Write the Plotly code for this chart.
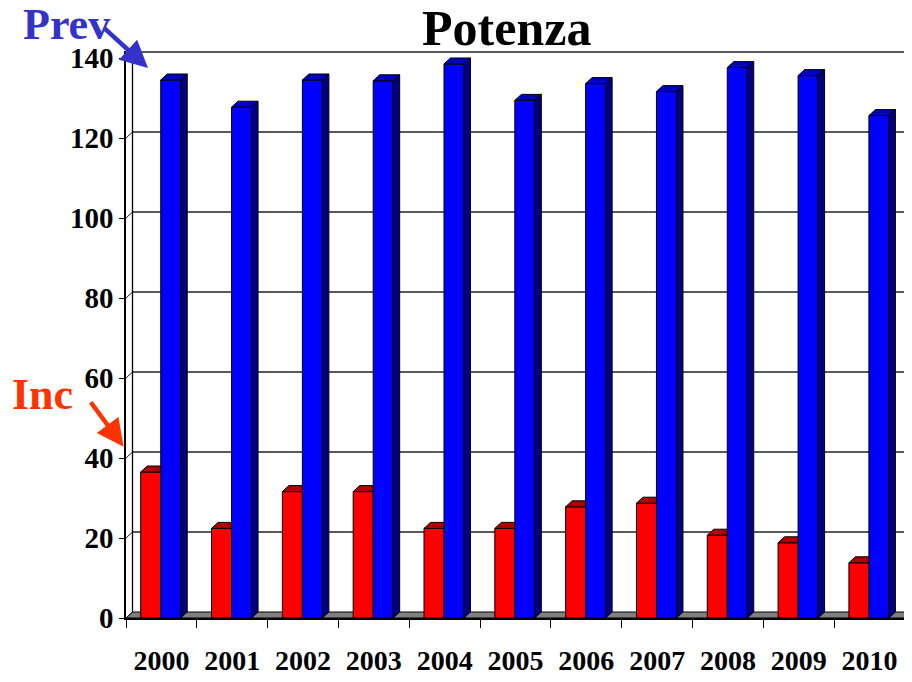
import plotly.graph_objects as go

# dati
anni = ["2000", "2001", "2002", "2003", "2004", "2005", "2006", "2007", "2008", "2009", "2010"]
inc = [36.5, 22.4, 31.6, 31.6, 22.4, 22.4, 27.8, 28.7, 20.7, 18.8, 13.8]
prev = [134.5, 127.7, 134.5, 134.3, 138.5, 129.4, 133.6, 131.6, 137.6, 135.6, 125.6]

# geometria dell'effetto 3D (in unita' degli assi)
ux = 779 / 11          # pixel per categoria
dx = 6.5 / ux          # profondita' orizzontale
dy = 1.5               # profondita' verticale
w = 20 / ux            # larghezza barra
off_r = -0.292
off_b = off_r + w
xs = list(range(len(anni)))

fig = go.Figure()

# facce frontali
fig.add_trace(go.Bar(x=xs, y=inc, width=w, offset=off_r, marker_color="#FF0000",
                     marker_line=dict(color="black", width=1), name="Inc"))
fig.add_trace(go.Bar(x=xs, y=prev, width=w, offset=off_b, marker_color="#0000FF",
                     marker_line=dict(color="black", width=1), name="Prev"))

# facce superiori e laterali
def poly(pts_list):
    px_, py_ = [], []
    for pts in pts_list:
        for p in pts + [pts[0]]:
            px_.append(p[0]); py_.append(p[1])
        px_.append(None); py_.append(None)
    return px_, py_

top_r = []
for i, v in zip(xs, inc):
    xl, xr = i + off_r, i + off_r + w
    top_r.append([(xl, v), (xr, v), (xr, v + dy), (xl + dx, v + dy)])
top_b, side_b = [], []
for i, v in zip(xs, prev):
    xl, xr = i + off_b, i + off_b + w
    top_b.append([(xl, v), (xr, v), (xr + dx, v + dy), (xl + dx, v + dy)])
    side_b.append([(xr, 0), (xr + dx, dy), (xr + dx, v + dy), (xr, v)])

for pts, col in [(top_r, "#B00000"), (top_b, "#0000C0"), (side_b, "#000080")]:
    px_, py_ = poly(pts)
    fig.add_trace(go.Scatter(x=px_, y=py_, mode="lines", fill="toself", fillcolor=col,
                             line=dict(color="black", width=1), hoverinfo="skip"))

# pareti, pavimento e griglia
x0, x1 = -0.5, 10.5
shapes = [dict(type="path", layer="below", fillcolor="#808080",
               line=dict(color="black", width=1),
               path=f"M {x0},0 L {x1},0 L {x1+dx},{dy} L {x0+dx},{dy} Z")]
for v in range(20, 141, 20):
    shapes.append(dict(type="line", layer="below", x0=x0 + dx, x1=x1 + dx, y0=v + dy, y1=v + dy,
                       line=dict(color="#222222", width=1.3)))
for v in range(0, 141, 20):
    shapes.append(dict(type="line", layer="below", x0=x0, x1=x0 + dx, y0=v, y1=v + dy,
                       line=dict(color="#222222", width=1)))
shapes.append(dict(type="line", layer="below", x0=x0 + dx, x1=x0 + dx, y0=dy, y1=140 + dy,
                   line=dict(color="black", width=1.3)))
shapes.append(dict(type="line", layer="below", x0=x1 + dx, x1=x1 + dx, y0=dy, y1=140 + dy,
                   line=dict(color="black", width=1.3)))
fig.update_layout(shapes=shapes)

font = "Liberation Serif"
# la pagina ha un margine di 8px: la figura e' piu' piccola di 8px
fig.update_layout(
    width=904, height=674,
    margin=dict(l=118, r=0, t=43, b=64),
    paper_bgcolor="white", plot_bgcolor="white",
    showlegend=False, barmode="overlay",
    xaxis=dict(range=[x0, x1 + 7 / ux], tickmode="array", tickvals=xs, ticktext=anni,
               ticks="", showgrid=False, zeroline=False, showline=True,
               linecolor="black", linewidth=1.5, ticklabelstandoff=17,
               tickfont=dict(family=font, size=28, color="black", weight="bold"),
               minor=dict(tick0=-0.5, dtick=1, ticks="outside", ticklen=8,
                          tickcolor="black", tickwidth=1.3, showgrid=False)),
    yaxis=dict(range=[0, 141.75], tickvals=list(range(0, 141, 20)), ticks="outside",
               ticklen=5, tickcolor="black", showgrid=False, zeroline=False,
               showline=True, linecolor="black", linewidth=1.5,
               tickfont=dict(family=font, size=29, color="black", weight="bold")),
    annotations=[
        dict(text="Potenza", xref="paper", yref="paper", x=0.4847, y=1.04,
             showarrow=False, xanchor="center", yanchor="middle",
             font=dict(family=font, size=50, color="black", weight="bold")),
        dict(text="Prev", xref="paper", yref="paper", x=-0.134, y=1.046,
             showarrow=False, xanchor="left", yanchor="middle",
             font=dict(family=font, size=44, color="#3333CC", weight="bold")),
        dict(text="", xref="paper", yref="paper", x=0.028, y=0.970,
             ax=-45, ay=-41, showarrow=True, arrowhead=2, arrowsize=1.2,
             arrowwidth=4.5, arrowcolor="#3333CC"),
        dict(text="Inc", xref="paper", yref="paper", x=-0.1476, y=0.394,
             showarrow=False, xanchor="left", yanchor="middle",
             font=dict(family=font, size=44, color="#FF3300", weight="bold")),
        dict(text="", xref="paper", yref="paper", x=-0.003, y=0.302,
             ax=-34, ay=-46, showarrow=True, arrowhead=2, arrowsize=1.2,
             arrowwidth=4.5, arrowcolor="#FF3300"),
    ],
)

fig.write_html("out.html")
